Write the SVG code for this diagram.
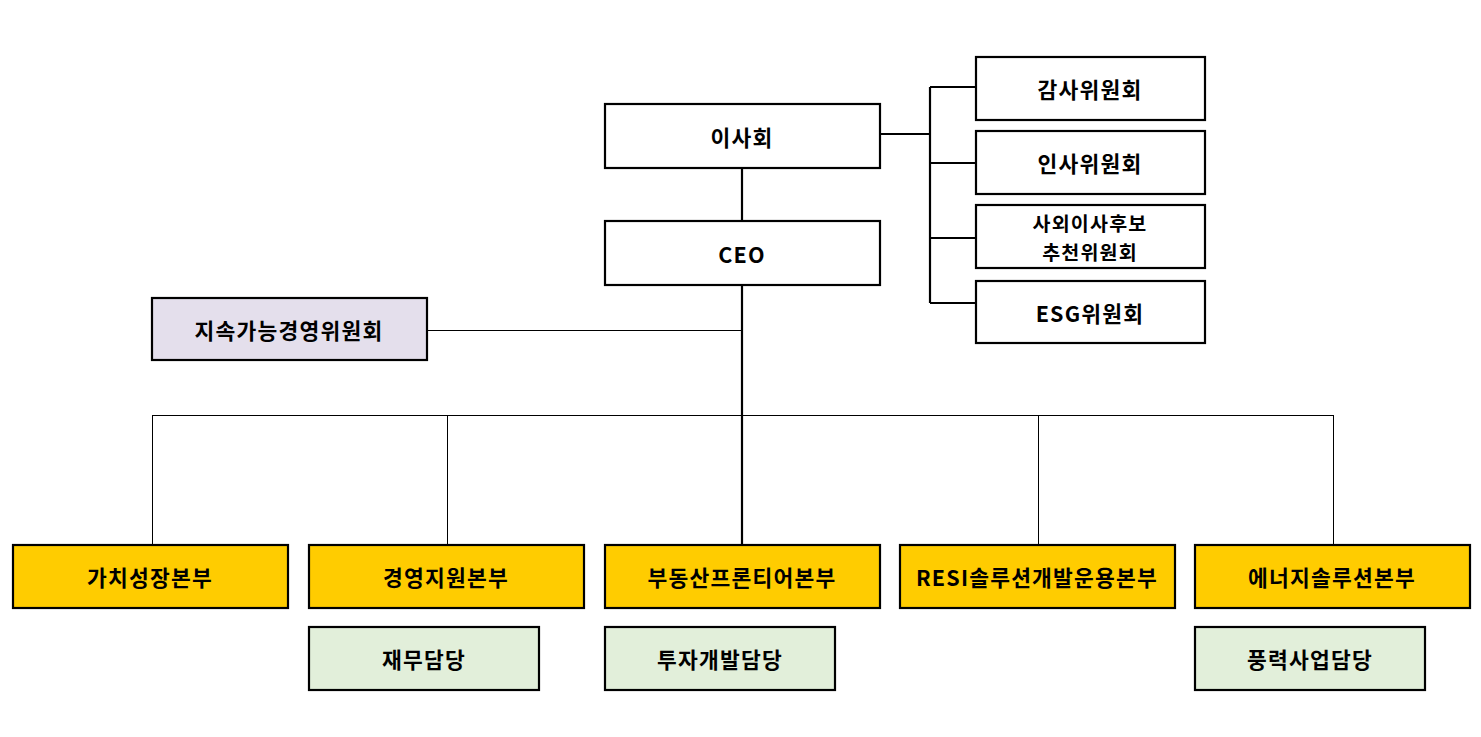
<svg xmlns="http://www.w3.org/2000/svg" width="1481" height="737" viewBox="0 0 1481 737">
<style>
.box{fill:#fff;stroke:#000;stroke-width:2.2}
.sus{fill:#e4dfec;stroke:#000;stroke-width:2.2}
.div{fill:#ffcc00;stroke:#000;stroke-width:2.2}
.sub{fill:#e2efda;stroke:#000;stroke-width:2.2}
.t{font-family:"Noto Sans CJK KR","Liberation Sans",sans-serif;font-weight:bold;font-size:21.5px;letter-spacing:1.2px;fill:#000;text-anchor:middle;dominant-baseline:central}
.t2{font-size:19.5px}
.thin{stroke:#000;stroke-width:1;fill:none}
.thick{stroke:#000;stroke-width:2.2;fill:none}
</style>
<rect width="1481" height="737" fill="#fff"/>
<g id="connectors">
<line class="thick" x1="742" y1="168" x2="742" y2="221"/>
<line class="thick" x1="880" y1="134" x2="930" y2="134"/>
<line class="thick" x1="930" y1="87" x2="930" y2="303"/>
<line class="thick" x1="930" y1="87" x2="976" y2="87"/>
<line class="thick" x1="930" y1="163" x2="976" y2="163"/>
<line class="thick" x1="930" y1="238" x2="976" y2="238"/>
<line class="thick" x1="930" y1="303" x2="976" y2="303"/>
<line class="thick" x1="742" y1="285" x2="742" y2="545"/>
<line class="thin" x1="427" y1="330.5" x2="742" y2="330.5"/>
<line class="thin" x1="152" y1="415.5" x2="1333" y2="415.5"/>
<line class="thin" x1="152.5" y1="415" x2="152.5" y2="545"/>
<line class="thin" x1="447.5" y1="415" x2="447.5" y2="545"/>
<line class="thin" x1="1038.5" y1="415" x2="1038.5" y2="545"/>
<line class="thin" x1="1333.5" y1="415" x2="1333.5" y2="545"/>
</g>
<g id="board"><rect class="box" x="605" y="104" width="275" height="64"/><text class="t" x="742" y="136">이사회</text></g>
<g id="ceo"><rect class="box" x="605" y="221" width="275" height="64"/><text class="t" x="742" y="253">CEO</text></g>
<g id="audit"><rect class="box" x="976" y="57" width="229" height="63"/><text class="t" x="1090" y="88">감사위원회</text></g>
<g id="hr"><rect class="box" x="976" y="131" width="229" height="63"/><text class="t" x="1090" y="162">인사위원회</text></g>
<g id="outside"><rect class="box" x="976" y="205" width="229" height="63"/><text class="t t2" x="1090" y="222">사외이사후보</text><text class="t t2" x="1090" y="251">추천위원회</text></g>
<g id="esg"><rect class="box" x="976" y="281" width="229" height="62"/><text class="t" x="1090" y="312">ESG위원회</text></g>
<g id="sustain"><rect class="sus" x="152" y="298" width="275" height="62"/><text class="t" x="289" y="329">지속가능경영위원회</text></g>
<g id="div1"><rect class="div" x="13" y="545" width="275" height="63"/><text class="t" x="150" y="576">가치성장본부</text></g>
<g id="div2"><rect class="div" x="309" y="545" width="275" height="63"/><text class="t" x="446" y="576">경영지원본부</text></g>
<g id="div3"><rect class="div" x="605" y="545" width="275" height="63"/><text class="t" x="742" y="576">부동산프론티어본부</text></g>
<g id="div4"><rect class="div" x="900" y="545" width="275" height="63"/><text class="t" x="1037" y="576" letter-spacing="0.3">RESI솔루션개발운용본부</text></g>
<g id="div5"><rect class="div" x="1195" y="545" width="275" height="63"/><text class="t" x="1332" y="576">에너지솔루션본부</text></g>
<g id="sub1"><rect class="sub" x="309" y="627" width="230" height="63"/><text class="t" x="424" y="658">재무담당</text></g>
<g id="sub2"><rect class="sub" x="605" y="627" width="230" height="63"/><text class="t" x="720" y="658">투자개발담당</text></g>
<g id="sub3"><rect class="sub" x="1195" y="627" width="230" height="63"/><text class="t" x="1310" y="658">풍력사업담당</text></g>
</svg>
